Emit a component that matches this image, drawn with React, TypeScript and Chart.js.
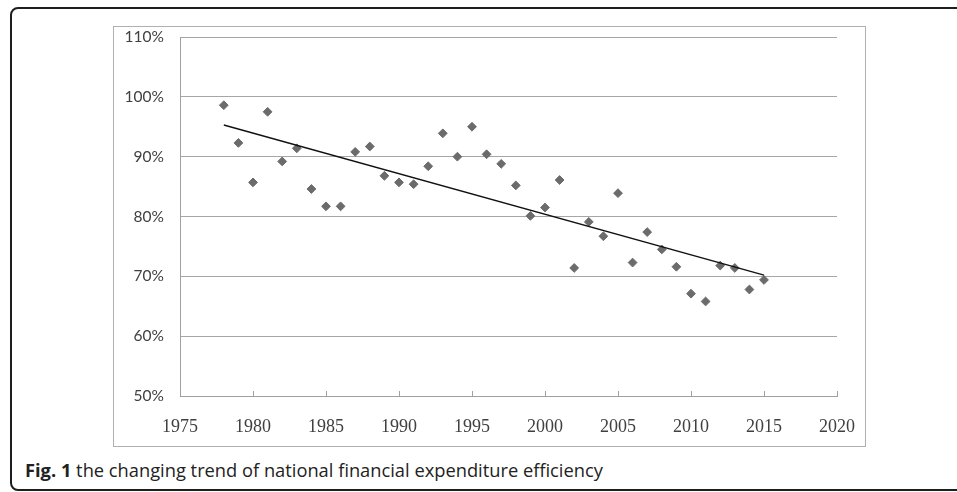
import React, { useEffect, useRef } from "react";
import { Chart, registerables } from "chart.js";

Chart.register(...registerables);

const years = [
  1978, 1979, 1980, 1981, 1982, 1983, 1984, 1985, 1986, 1987,
  1988, 1989, 1990, 1991, 1992, 1993, 1994, 1995, 1996, 1997,
  1998, 1999, 2000, 2001, 2002, 2003, 2004, 2005, 2006, 2007,
  2008, 2009, 2010, 2011, 2012, 2013, 2014, 2015,
];
const efficiency = [
  98.6, 92.3, 85.7, 97.5, 89.2, 91.4, 84.6, 81.7, 81.7, 90.8,
  91.7, 86.8, 85.7, 85.4, 88.4, 93.9, 90.0, 95.0, 90.4, 88.8,
  85.2, 80.1, 81.5, 86.1, 71.4, 79.1, 76.7, 83.9, 72.3, 77.4,
  74.5, 71.6, 67.1, 65.8, 71.8, 71.4, 67.8, 69.4,
];
const trendYears = [1978, 2015];
const trendValues = [95.3, 70.2];

const xMin = 1975;
const xMax = 2020;
const xStep = 5;
const yMin = 50;
const yMax = 110;
const yStep = 10;

const caption = "the changing trend of national financial expenditure efficiency";

const innerTicks = {
  id: "innerTicks",
  afterDatasetsDraw(chart: any) {
    const sx = chart.scales.x;
    const ctx = chart.ctx;
    const bottom = chart.chartArea.bottom;
    ctx.save();
    ctx.strokeStyle = "#a0a0a0";
    ctx.lineWidth = 1;
    sx.ticks.forEach((t: any) => {
      const px = Math.round(sx.getPixelForValue(t.value)) + 0.5;
      ctx.beginPath();
      ctx.moveTo(px, bottom);
      ctx.lineTo(px, bottom - 5);
      ctx.stroke();
    });
    ctx.restore();
  },
};

export default function App() {
  const ref = useRef<HTMLCanvasElement | null>(null);

  useEffect(() => {
    if (!ref.current) return;
    const chart = new Chart(ref.current, {
      type: "scatter",
      data: {
        datasets: [
          {
            label: "efficiency",
            data: years.map((y, i) => ({ x: y, y: efficiency[i] })),
            pointStyle: "rectRot",
            pointRadius: 4.4,
            pointBorderWidth: 1,
            backgroundColor: "#6b6b6b",
            borderColor: "#6b6b6b",
            order: 2,
          },
          {
            label: "trend",
            data: trendYears.map((y, i) => ({ x: y, y: trendValues[i] })),
            showLine: true,
            pointRadius: 0,
            borderColor: "#111111",
            borderWidth: 1.4,
            order: 1,
          } as any,
        ],
      },
      options: {
        animation: false,
        responsive: false,
        maintainAspectRatio: false,
        layout: { autoPadding: false, padding: { left: 0, right: 28, top: 10, bottom: 0 } },
        plugins: {
          legend: { display: false },
          tooltip: { enabled: false },
        },
        scales: {
          x: {
            type: "linear",
            min: xMin,
            max: xMax,
            afterFit(scale: any) {
              scale.height = 50;
              scale.paddingLeft = 0;
              scale.paddingRight = 0;
            },
            ticks: {
              stepSize: xStep,
              padding: 20,
              color: "#404040",
              font: { family: "'Liberation Serif', serif", size: 18 },
              callback: (v: any) => String(v),
            },
            grid: { display: true, drawOnChartArea: false, drawTicks: false },
            border: { display: true, color: "#a0a0a0", width: 1 },
          },
          y: {
            type: "linear",
            min: yMin,
            max: yMax,
            afterFit(scale: any) {
              scale.width = 66;
              scale.paddingTop = 0;
              scale.paddingBottom = 0;
            },
            ticks: {
              stepSize: yStep,
              padding: 16,
              color: "#404040",
              font: { family: "Lato, 'Open Sans', sans-serif", size: 15.5 },
              callback: (v: any) => `${v}%`,
            },
            grid: { color: "#a6a6a6", lineWidth: 1, drawTicks: false },
            border: { display: true, color: "#a0a0a0", width: 1 },
          },
        },
      },
      plugins: [innerTicks],
    });
    return () => chart.destroy();
  }, []);

  return (
    <div
      style={{
        position: "absolute",
        left: 0,
        top: 0,
        width: 957,
        height: 492,
        overflow: "hidden",
        background: "#fff",
      }}
    >
      <div
        style={{
          position: "absolute",
          left: 10,
          top: 7,
          width: 1000,
          height: 484,
          border: "2px solid #1e1e1e",
          borderRadius: 8,
          boxSizing: "border-box",
        }}
      />
      <div
        style={{
          position: "absolute",
          left: 113,
          top: 26,
          width: 753,
          height: 421,
          border: "1px solid #b0b0b0",
          boxSizing: "border-box",
        }}
      >
        <canvas ref={ref} width={751} height={419} style={{ display: "block" }} />
      </div>
      <div
        style={{
          position: "absolute",
          left: 25,
          top: 459,
          fontFamily: "'Open Sans', 'Noto Sans', sans-serif",
          fontSize: 18.3,
          color: "#222",
          whiteSpace: "nowrap",
          lineHeight: "22px",
        }}
      >
        <b>Fig. 1</b> {caption}
      </div>
    </div>
  );
}
